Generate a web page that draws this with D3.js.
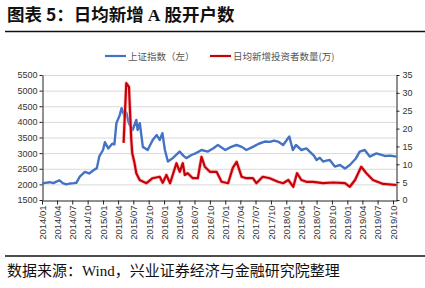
<!DOCTYPE html>
<html>
<head>
<meta charset="utf-8">
<script src="https://cdn.jsdelivr.net/npm/d3@7"></script>
<style>
  body { margin: 0; background: #fff; }
  svg { display: block; }
</style>
</head>
<body>
<svg id="chart" width="425" height="288"></svg>
<script>
// --- DATA ---
const indexDates = [
    '2014-01-01', '2014-01-20', '2014-02-15', '2014-03-10', '2014-03-28', '2014-04-15', '2014-05-05',
    '2014-05-26', '2014-06-20', '2014-07-10', '2014-07-25', '2014-08-15', '2014-09-14', '2014-10-10',
    '2014-11-05', '2014-11-25', '2014-12-10', '2015-01-01', '2015-01-12', '2015-02-01', '2015-02-25',
    '2015-03-10', '2015-03-22', '2015-04-10', '2015-04-22', '2015-04-28', '2015-05-10', '2015-05-20',
    '2015-06-05', '2015-06-27', '2015-07-19', '2015-07-27', '2015-08-09', '2015-08-27', '2015-09-25',
    '2015-10-25', '2015-11-18', '2015-12-06', '2015-12-22', '2016-01-06', '2016-01-24', '2016-02-22',
    '2016-03-15', '2016-04-03', '2016-04-25', '2016-05-13', '2016-06-13', '2016-07-10', '2016-08-12',
    '2016-09-19', '2016-10-20', '2016-11-18', '2016-12-10', '2017-01-01', '2017-02-05', '2017-03-09',
    '2017-04-10', '2017-05-07', '2017-06-15', '2017-07-20', '2017-08-25', '2017-09-25', '2017-10-20',
    '2017-11-12', '2017-12-13', '2018-01-19', '2018-02-09', '2018-02-28', '2018-04-01', '2018-05-01',
    '2018-05-21', '2018-06-15', '2018-07-01', '2018-07-20', '2018-08-09', '2018-08-28', '2018-09-18',
    '2018-10-18', '2018-11-18', '2018-12-18', '2019-01-16', '2019-02-21', '2019-03-16', '2019-04-15',
    '2019-05-15', '2019-06-24', '2019-08-13', '2019-09-15', '2019-10-22'
];
const indexValues = [
    2030, 2050, 2070, 2040, 2090, 2130, 2040,
    2000, 2030, 2040, 2050, 2250, 2400, 2350,
    2450, 2520, 2900, 3100, 3350, 3150, 3300,
    3280, 3960, 4200, 4440, 4350, 4170, 4300,
    3950, 3740, 4060, 3740, 3960, 3200, 3100,
    3420, 3580, 3420, 3640, 3100, 2730, 2840,
    2950, 3050, 2920, 2840, 2940, 3000, 3100,
    3050, 3150, 3260, 3180, 3100, 3200, 3260,
    3200, 3100, 3200, 3300, 3370, 3360, 3400,
    3370, 3260, 3530, 3100, 3260, 3100, 3150,
    3050, 2920, 2780, 2850, 2730, 2760, 2780,
    2570, 2620, 2510, 2620, 2830, 3050, 3100,
    2890, 2990, 2910, 2920, 2890
];

const newDates = [
    '2015-05-04', '2015-05-20', '2015-06-05', '2015-06-19', '2015-06-25', '2015-07-08', '2015-07-19',
    '2015-08-08', '2015-09-18', '2015-10-24', '2015-12-06', '2015-12-24', '2016-01-15', '2016-02-06',
    '2016-03-15', '2016-04-04', '2016-04-22', '2016-05-04', '2016-05-21', '2016-06-21', '2016-07-21',
    '2016-08-12', '2016-09-01', '2016-10-01', '2016-11-10', '2016-12-10', '2017-01-18', '2017-02-15',
    '2017-03-10', '2017-04-09', '2017-05-07', '2017-06-15', '2017-07-06', '2017-08-13', '2017-09-24',
    '2017-11-12', '2017-12-13', '2018-01-13', '2018-02-12', '2018-03-06', '2018-04-01', '2018-05-01',
    '2018-06-10', '2018-08-09', '2018-10-09', '2018-12-18', '2019-01-16', '2019-02-16', '2019-03-25',
    '2019-04-25', '2019-06-03', '2019-08-03', '2019-10-22'
];
const newValues = [
    16, 32.7, 31.7, 16.8, 13, 10.4, 7.5,
    5.6, 4.7, 6.1, 6.5, 4.8, 7, 4.7,
    10.3, 7.9, 10.3, 7, 7.5, 6.1, 6.1,
    12.1, 9.3, 7.9, 7.9, 5.1, 4.7, 9,
    10.7, 6.5, 6.1, 6.1, 4.7, 6.5, 6.1,
    5.1, 4.7, 5.6, 3.7, 7.5, 5.6, 5.1,
    5.1, 4.7, 4.9, 4.7, 3.7, 5.6, 9.3,
    7.5, 5.6, 4.5, 4.2
];

const leftTicks = [1500, 2000, 2500, 3000, 3500, 4000, 4500, 5000, 5500];
const rightTicks = [0, 5, 10, 15, 20, 25, 30, 35];

// --- CHART ---
const parse = d3.timeParse('%Y-%m-%d');
const svg = d3.select('#chart');
const fontCN = '"Noto Sans CJK SC", "Noto Sans", sans-serif';
const fontNum = '"Liberation Sans", Arial, sans-serif';

const x = d3.scaleTime()
    .domain([parse('2014-01-01'), parse('2019-10-25')])
    .range([42, 397]);
const yL = d3.scaleLinear().domain([1500, 5500]).range([200, 75]);
const yR = d3.scaleLinear().domain([0, 35]).range([200, 75]);

// title + rules
svg.append('text')
    .attr('x', 7).attr('y', 21)
    .attr('font-family', fontCN).attr('font-weight', 'bold').attr('font-size', 17.5)
    .attr('fill', '#111')
    .html('图表 5：日均新增 <tspan font-family="Liberation Serif">A</tspan> 股开户数');
svg.append('line').attr('x1', 5).attr('x2', 425).attr('y1', 31.5).attr('y2', 31.5)
    .attr('stroke', '#111').attr('stroke-width', 1.5);
svg.append('line').attr('x1', 5).attr('x2', 425).attr('y1', 256).attr('y2', 256)
    .attr('stroke', '#111').attr('stroke-width', 1.5);
svg.append('text')
    .attr('x', 7).attr('y', 276)
    .attr('font-family', fontCN).attr('font-size', 15).attr('fill', '#111')
    .html('数据来源：<tspan font-family="Liberation Serif">Wind</tspan>，兴业证券经济与金融研究院整理');

// gridlines
svg.append('g')
    .selectAll('line')
    .data(leftTicks.slice(1))
    .enter().append('line')
    .attr('x1', 42).attr('x2', 397)
    .attr('y1', d => yL(d) + 0.5).attr('y2', d => yL(d) + 0.5)
    .attr('stroke', '#d9d9d9').attr('stroke-width', 1);

// axes
const styleAxis = g => {
    g.select('.domain').attr('stroke', '#222');
    g.selectAll('.tick line').attr('stroke', '#222');
    g.selectAll('.tick text').attr('font-family', fontNum).attr('font-size', 9).attr('fill', '#333');
};

svg.append('g')
    .attr('transform', 'translate(42.5,0)')
    .call(d3.axisLeft(yL).tickValues(leftTicks).tickFormat(d3.format('d'))
        .tickSize(3).tickPadding(2).tickSizeOuter(0))
    .call(styleAxis);

svg.append('g')
    .attr('transform', 'translate(396.5,0)')
    .call(d3.axisRight(yR).tickValues(rightTicks).tickSize(3).tickPadding(3).tickSizeOuter(0))
    .call(styleAxis);

const xAxis = svg.append('g')
    .attr('transform', 'translate(0,200.5)')
    .call(d3.axisBottom(x)
        .ticks(d3.timeMonth.every(3))
        .tickFormat(d3.timeFormat('%Y/%m'))
        .tickSize(4).tickSizeOuter(0))
    .call(styleAxis);
xAxis.selectAll('.tick text')
    .attr('transform', 'rotate(-90)')
    .attr('text-anchor', 'end')
    .attr('x', -5).attr('y', 0).attr('dy', '0.35em')
    .attr('font-size', 9.5);

// lines
const blueLine = d3.line()
    .x((d, i) => x(parse(indexDates[i])))
    .y(d => yL(d));
const redLine = d3.line()
    .x((d, i) => x(parse(newDates[i])))
    .y(d => yR(d));

svg.append('path')
    .datum(indexValues)
    .attr('d', blueLine)
    .attr('fill', 'none').attr('stroke', '#4472C4').attr('stroke-width', 2.4)
    .attr('stroke-linejoin', 'round');

svg.append('path')
    .datum(newValues)
    .attr('d', redLine)
    .attr('fill', 'none').attr('stroke', '#f4a0a0').attr('stroke-width', 3.8).attr('opacity', 0.6)
    .attr('stroke-linejoin', 'round');
svg.append('path')
    .datum(newValues)
    .attr('d', redLine)
    .attr('fill', 'none').attr('stroke', '#C8000A').attr('stroke-width', 2.2)
    .attr('stroke-linejoin', 'round');

// legend
const legend = [
    { label: '上证指数（左）', color: '#4472C4', x: 105 },
    { label: '日均新增投资者数量(万)', color: '#C8000A', x: 210 }
];
const lg = svg.append('g');
legend.forEach(l => {
    lg.append('line').attr('x1', l.x).attr('x2', l.x + 21).attr('y1', 56).attr('y2', 56)
        .attr('stroke', l.color).attr('stroke-width', 2.2);
    lg.append('text').attr('x', l.x + 23).attr('y', 59.5)
        .attr('font-family', fontCN).attr('font-size', 9.5).attr('fill', '#555')
        .text(l.label);
});
</script>
</body>
</html>
